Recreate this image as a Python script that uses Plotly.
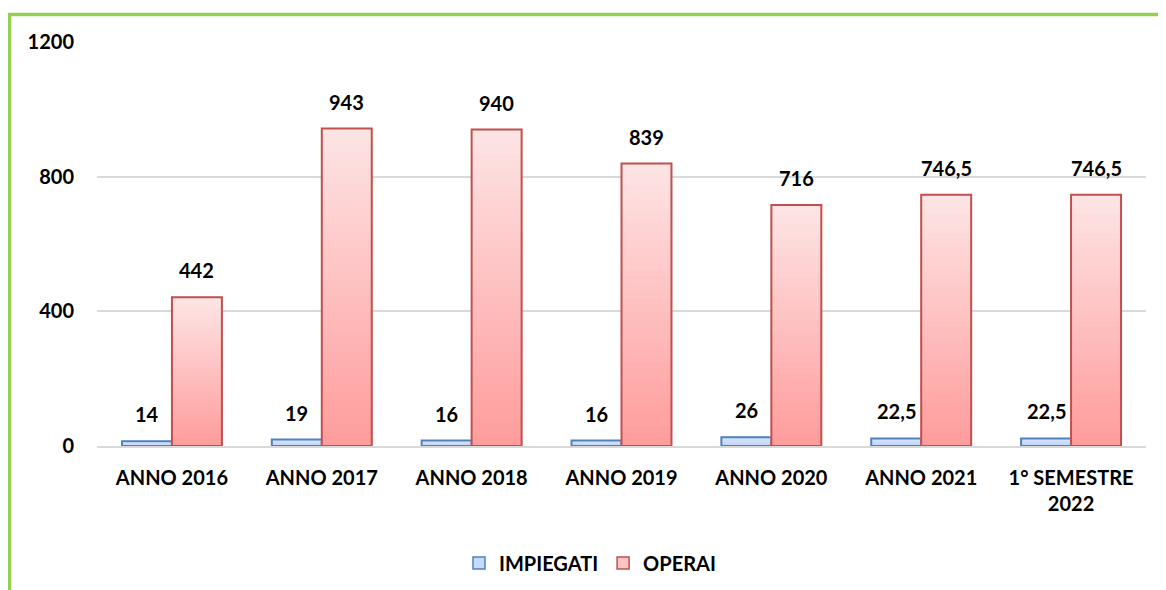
import plotly.graph_objects as go

categories = ["ANNO 2016", "ANNO 2017", "ANNO 2018", "ANNO 2019", "ANNO 2020", "ANNO 2021", "1° SEMESTRE<br>2022"]
impiegati = [14, 19, 16, 16, 26, 22.5, 22.5]
operai = [442, 943, 940, 839, 716, 746.5, 746.5]
y_ticks = [0, 400, 800, 1200]

FONT = "Lato"
FS = 20
OFF = 8  # page body margin in the browser
W, H = 1166 - OFF, 590 - OFF
# reference pixel geometry of the plot area
PL, PR, PT, PB = 97, 1146, 42, 446
ML, MT = PL - OFF, PT - OFF
PW, PH = PR - PL, PB - PT
MR, MB = W - ML - PW, H - MT - PH

def fmt(v):
    return ("%g" % v).replace(".", ",")

def lerp(c1, c2, t):
    return "rgb(%d,%d,%d)" % tuple(round(a + (b - a) * t) for a, b in zip(c1, c2))

fig = go.Figure()
N = 40
series = [
    ("IMPIEGATI", impiegati, "imp", (214, 228, 252), (190, 210, 246), "#4f81bd", "#c6d9f8"),
    ("OPERAI", operai, "op", (253, 228, 228), (255, 156, 156), "#c0504d", "#fdc4c4"),
]
for name, vals, grp, ctop, cbot, line, legfill in series:
    for i in range(N):
        t = i / (N - 1)
        c = lerp(cbot, ctop, t)
        fig.add_trace(go.Bar(
            x=categories, y=[v / N for v in vals], base=[v * i / N for v in vals],
            offsetgroup=grp, marker=dict(color=c, line=dict(color=c, width=1)),
            showlegend=False, hoverinfo="skip"))
    fig.add_trace(go.Bar(
        x=categories, y=vals, offsetgroup=grp, name=name,
        marker=dict(color="rgba(0,0,0,0)", line=dict(color=line, width=2)),
        showlegend=False))
    fig.add_trace(go.Bar(
        x=[categories[0]], y=[None], offsetgroup=grp, name=name,
        marker=dict(color=legfill, line=dict(color=line, width=1.5)),
        showlegend=True))

annotations = []
for i, (a, b) in enumerate(zip(impiegati, operai)):
    for val, off in ((a, -1 / 6), (b, 1 / 6)):
        annotations.append(dict(x=i + off, y=val, xref="x", yref="y", text=fmt(val),
                                showarrow=False, yanchor="bottom", yshift=13,
                                font=dict(family=FONT, size=FS, color="#000000", weight=700)))

def px_to_paper_x(px):
    return (px - PL) / PW

def py_to_paper_y(py):
    return (PB - py) / PH

shapes = [dict(type="path", xref="paper", yref="paper",
               path="M %f %f L %f %f L %f %f" % (
                   px_to_paper_x(9.5), py_to_paper_y(620),
                   px_to_paper_x(9.5), py_to_paper_y(14.5),
                   px_to_paper_x(1200), py_to_paper_y(14.5)),
               line=dict(color="#92d050", width=3.5), layer="above")]

fig.update_layout(
    width=W, height=H,
    margin=dict(l=ML, r=MR, t=MT, b=MB, autoexpand=False),
    paper_bgcolor="white", plot_bgcolor="white",
    barmode="group", bargap=0.333, bargroupgap=0,
    font=dict(family=FONT, size=FS, color="#000000", weight=700),
    xaxis=dict(type="category", showgrid=False, showline=True, linecolor="#d9d9d9", linewidth=1.5,
               ticks="", ticklabelstandoff=13,
               tickfont=dict(family=FONT, size=FS, color="#000000", weight=700),
               range=[-0.5, 6.5]),
    yaxis=dict(range=[0, 1200], tickvals=y_ticks, ticktext=[str(t) for t in y_ticks],
               showgrid=True, gridcolor="#d9d9d9", gridwidth=1.5, zeroline=False,
               showline=False, ticks="", ticklabelstandoff=22,
               tickfont=dict(family=FONT, size=FS, color="#000000", weight=700)),
    legend=dict(orientation="h", x=px_to_paper_x(590), xanchor="center",
                y=py_to_paper_y(563), yanchor="middle",
                font=dict(family=FONT, size=FS, color="#000000", weight=700),
                itemwidth=30, traceorder="normal"),
    annotations=annotations,
    shapes=shapes,
    showlegend=True,
)

fig.write_html("out.html")
